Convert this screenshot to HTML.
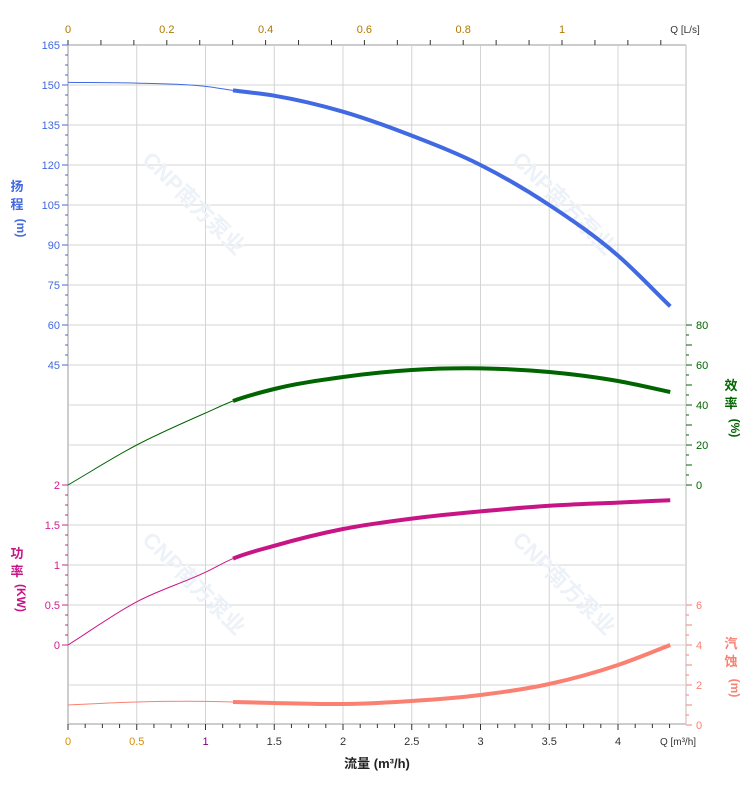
<!DOCTYPE html>
<html><head><meta charset="utf-8"><style>
body{margin:0;background:#fff;font-family:"Liberation Sans","Noto Sans CJK SC",sans-serif}
svg{display:block}
</style></head><body>
<svg id="c" width="752" height="797" xmlns="http://www.w3.org/2000/svg" font-family="Liberation Sans, Noto Sans CJK SC, sans-serif" font-size="11"></svg>
<script>
const flow=[0,0.5,1,1.2,1.5,2,2.5,3,3.5,4,4.38];
const headVals=[151,150.7,149.5,148,146,140,131,120,105,86,67];
const effVals=[0,20,36,42,48,54,57.5,58.3,56.5,52,46.5];
const powerVals=[0,0.54,0.91,1.08,1.24,1.45,1.58,1.67,1.74,1.78,1.81];
const npshVals=[1.0,1.15,1.18,1.15,1.1,1.05,1.2,1.5,2.05,3.0,4.0];
const xTicks=[0,0.5,1,1.5,2,2.5,3,3.5,4];
const topTicks=[0,0.2,0.4,0.6,0.8,1];
const headTicks=[165,150,135,120,105,90,75,60,45];
const effTicks=[80,60,40,20,0];
const powerTicks=[2,1.5,1,0.5,0];
const npshTicks=[6,4,2,0];
const thickFrom=1.2;

const svg=document.getElementById('c');const NS='http://www.w3.org/2000/svg';
const L=68,R=686,T=45,B=724;
const X=v=>L+v*137.5, XT=q=>L+q*494;
const YH=v=>45+(165-v)*40/15, YE=v=>485-v*2, YP=v=>645-v*80, YN=v=>725-v*20;
function el(t,a,p){const e=document.createElementNS(NS,t);for(const k in a)e.setAttribute(k,a[k]);(p||svg).appendChild(e);return e;}
function txt(s,a){const e=el('text',a);e.textContent=s;return e;}
const grid=el('g',{});
for(let y=T;y<=B;y+=40)el('line',{x1:L,x2:R,y1:y,y2:y,stroke:'#d4d4d4','stroke-width':1},grid);
for(let v=0.5;v<=4.5;v+=0.5){if(X(v)<=R)el('line',{x1:X(v),x2:X(v),y1:T,y2:B,stroke:'#d4d4d4','stroke-width':1},grid);}
[[180,200],[550,200],[180,580],[550,580]].forEach(p=>{const w=txt('CNP南方泵业',{x:p[0]-55,y:p[1],fill:'#edf2f8','font-size':22,'font-weight':'bold',transform:`rotate(45 ${p[0]} ${p[1]})`});});
el('line',{x1:L,x2:L,y1:T,y2:B,stroke:'#ccc','stroke-width':2});
el('line',{x1:R,x2:R,y1:T,y2:B,stroke:'#ddd','stroke-width':2});
el('line',{x1:L,x2:R,y1:B,y2:B,stroke:'#ccc','stroke-width':2});
el('line',{x1:L,x2:R,y1:T,y2:T,stroke:'#ccc','stroke-width':2});
for(let v=0;v<=4.4;v+=0.125){const maj=Math.abs(v*2-Math.round(v*2))<1e-6;el('line',{x1:X(v),x2:X(v),y1:B,y2:B+(maj?6:4),stroke:'#333'});}
xTicks.forEach((v,i)=>{const t=txt(String(v),{x:X(v),y:B+21,'text-anchor':'middle',fill:i==2?'#800080':(i<2?'#d98c00':'#333')});});
txt('Q [m³/h]',{x:R-8,y:B+21,'text-anchor':'middle',fill:'#333','font-size':10});
let xt=txt('流量 (m³/h)',{x:377,y:768,'text-anchor':'middle','font-weight':'bold','font-size':13,fill:'#222'});
for(let q=0;q<=1.25;q+=0.2/3){if(XT(q)<=R)el('line',{x1:XT(q),x2:XT(q),y1:T,y2:T-5,stroke:'#333'});}
topTicks.forEach(q=>{const t=txt(String(q),{x:XT(q),y:33,'text-anchor':'middle',fill:'#b07800'});});
txt('Q [L/s]',{x:R-1,y:33,'text-anchor':'middle',fill:'#333','font-size':10});
for(let y=T;y<=365;y+=10)el('line',{x1:L-(((y-T)%40)?3:6),x2:L,y1:y,y2:y,stroke:'#4169e1'});
headTicks.forEach(v=>{const t=txt(String(v),{x:L-8,y:YH(v)+4,'text-anchor':'end',fill:'#4169e1'});});
for(let y=485;y<=645;y+=10)el('line',{x1:L-(((y-485)%40)?3:6),x2:L,y1:y,y2:y,stroke:'#d02090'});
powerTicks.forEach(v=>{const t=txt(String(v),{x:L-8,y:YP(v)+4,'text-anchor':'end',fill:'#d02090'});});
for(let y=325;y<=485;y+=10)el('line',{x1:R,x2:R+(((y-325)%20)?3:6),y1:y,y2:y,stroke:'#006400'});
effTicks.forEach(v=>{const t=txt(String(v),{x:R+10,y:YE(v)+4,fill:'#006400'});});
for(let y=605;y<=725;y+=10)el('line',{x1:R,x2:R+(((y-605)%20)?3:6),y1:y,y2:y,stroke:'#fa8072'});
npshTicks.forEach(v=>{const t=txt(String(v),{x:R+10,y:YN(v)+4,fill:'#fa8072'});});
function vtitle(chars,x,y,color,name,step){const g=el('g',{});chars.forEach((c,i)=>{const t=el('text',{x:x,y:y+i*step,'text-anchor':'middle',fill:color,'font-size':13,'font-weight':'bold'},g);t.textContent=c;});}
vtitle(['扬','程'],17,191,'#4169e1','head-axis-title',18);
txt('(m)',{x:17,y:228,'text-anchor':'middle',fill:'#4169e1','font-size':12,'font-weight':'bold',transform:'rotate(90 17 228)'});
vtitle(['功','率'],17,558,'#c71585','power-axis-title',18);
txt('(KW)',{x:17,y:598,'text-anchor':'middle',fill:'#c71585','font-size':12,'font-weight':'bold',transform:'rotate(90 17 598)'});
vtitle(['效','率'],731,390,'#006400','eff-axis-title',18);
txt('(%)',{x:731,y:428,'text-anchor':'middle',fill:'#006400','font-size':12,'font-weight':'bold',transform:'rotate(90 731 428)'});
vtitle(['汽','蚀'],731,648,'#fa8072','npsh-axis-title',18);
txt('(m)',{x:731,y:688,'text-anchor':'middle',fill:'#fa8072','font-size':12,'font-weight':'bold',transform:'rotate(90 731 688)'});
// smooth path using full-series tangents (non-uniform Catmull-Rom / Hermite)
function tangents(xs,ys){const n=xs.length,m=[];for(let i=0;i<n;i++){if(i==0)m.push((ys[1]-ys[0])/(xs[1]-xs[0]));else if(i==n-1)m.push((ys[n-1]-ys[n-2])/(xs[n-1]-xs[n-2]));else{const a=(ys[i]-ys[i-1])/(xs[i]-xs[i-1]),b=(ys[i+1]-ys[i])/(xs[i+1]-xs[i]);const ha=xs[i]-xs[i-1],hb=xs[i+1]-xs[i];m.push((a*hb+b*ha)/(ha+hb));}}return m;}
function path(xs,ys,Y,from,to){const m=tangents(xs,ys);let d=`M${X(xs[from])},${Y(ys[from])}`;for(let i=from;i<to;i++){const h=xs[i+1]-xs[i];const x1=xs[i]+h/3,y1=ys[i]+m[i]*h/3,x2=xs[i+1]-h/3,y2=ys[i+1]-m[i+1]*h/3;d+=` C${X(x1)},${Y(y1)} ${X(x2)},${Y(y2)} ${X(xs[i+1])},${Y(ys[i+1])}`;}return d;}
function series(vals,Y,color,name){const k=flow.indexOf(thickFrom),n=flow.length-1;
const thin=el('path',{d:path(flow,vals,Y,0,k),fill:'none',stroke:color,'stroke-width':1});

const thick=el('path',{d:path(flow,vals,Y,k,n),fill:'none',stroke:color,'stroke-width':4});
}
series(headVals,YH,'#4169e1','head-curve');
series(effVals,YE,'#006400','efficiency-curve');
series(powerVals,YP,'#c71585','power-curve');
series(npshVals,YN,'#fa8072','npsh-curve');
</script>
</body></html>
